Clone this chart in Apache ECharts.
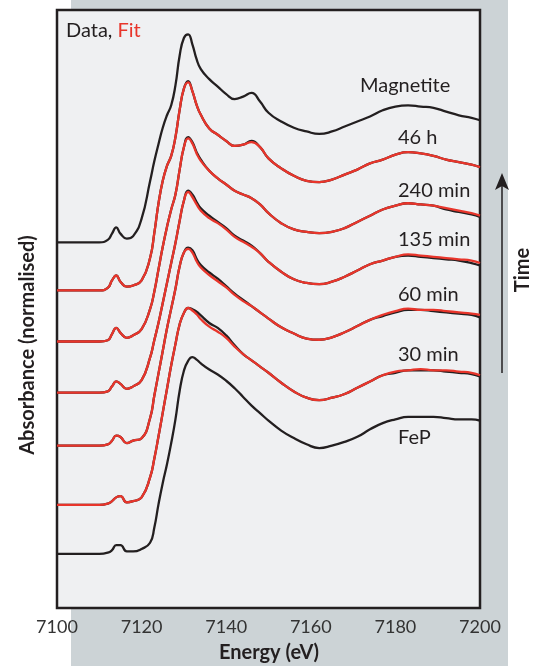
<!DOCTYPE html>
<html>
<head>
<meta charset="utf-8">
<script src="https://cdn.jsdelivr.net/npm/echarts@6/dist/echarts.min.js"></script>
<style>
  html, body { margin: 0; padding: 0; background: #ffffff; }
  #chart { width: 544px; height: 666px; }
</style>
</head>
<body>
<div id="chart"></div>
<script>
// Fe K-edge XANES, normalised absorbance vs photon energy (eV)
const energy = [7100, 7108, 7110, 7112, 7113, 7114, 7115, 7116.5, 7118, 7120, 7122, 7123, 7124, 7125, 7126, 7127,
  7128, 7129, 7130, 7131, 7132, 7133, 7134, 7136, 7138, 7140, 7142, 7144, 7146, 7148, 7150, 7153,
  7156, 7159, 7162, 7165, 7168, 7171, 7174, 7177, 7180, 7183, 7186, 7189, 7192, 7195, 7198, 7200];

// measured spectra (normalised)
const magnetite = [0, 0, 0, 0.02, 0.07, 0.12, 0.07, 0.03, 0.05, 0.19, 0.49, 0.65, 0.79, 0.92, 1.02, 1.10,
  1.26, 1.50, 1.64, 1.67, 1.59, 1.47, 1.39, 1.31, 1.25, 1.19, 1.15, 1.17, 1.20, 1.13, 1.04, 0.97,
  0.92, 0.89, 0.87, 0.89, 0.93, 0.97, 1.01, 1.06, 1.09, 1.10, 1.09, 1.08, 1.05, 1.02, 1.00, 0.98];
const h46 = [0, 0, 0, 0.02, 0.08, 0.12, 0.07, 0.03, 0.04, 0.08, 0.26, 0.46, 0.70, 0.88, 1.00, 1.08,
  1.23, 1.45, 1.62, 1.68, 1.60, 1.49, 1.41, 1.30, 1.25, 1.20, 1.16, 1.17, 1.20, 1.15, 1.06, 0.98,
  0.92, 0.88, 0.87, 0.89, 0.93, 0.97, 1.02, 1.05, 1.09, 1.11, 1.10, 1.08, 1.05, 1.03, 1.01, 0.99];
const min240 = [0, 0, 0, 0.01, 0.06, 0.11, 0.07, 0.03, 0.05, 0.10, 0.26, 0.40, 0.58, 0.76, 0.92, 1.06,
  1.18, 1.38, 1.56, 1.64, 1.60, 1.52, 1.46, 1.37, 1.31, 1.26, 1.21, 1.18, 1.15, 1.10, 1.03, 0.95,
  0.90, 0.88, 0.87, 0.88, 0.91, 0.96, 1.01, 1.06, 1.09, 1.11, 1.10, 1.09, 1.06, 1.04, 1.02, 1.00];
const min135 = [0, 0, 0, 0.01, 0.05, 0.09, 0.07, 0.03, 0.05, 0.10, 0.28, 0.42, 0.56, 0.72, 0.88, 1.04,
  1.20, 1.38, 1.54, 1.62, 1.59, 1.53, 1.48, 1.42, 1.37, 1.32, 1.26, 1.22, 1.18, 1.12, 1.05, 0.97,
  0.91, 0.88, 0.87, 0.89, 0.93, 0.98, 1.03, 1.06, 1.09, 1.10, 1.09, 1.08, 1.07, 1.06, 1.04, 1.02];
const min60 = [0, 0, 0, 0.01, 0.04, 0.08, 0.07, 0.02, 0.04, 0.06, 0.22, 0.40, 0.58, 0.76, 0.94, 1.10,
  1.26, 1.44, 1.55, 1.59, 1.57, 1.50, 1.45, 1.39, 1.34, 1.28, 1.22, 1.17, 1.12, 1.07, 1.02, 0.95,
  0.90, 0.86, 0.85, 0.87, 0.91, 0.96, 1.01, 1.04, 1.07, 1.09, 1.09, 1.08, 1.07, 1.06, 1.05, 1.03];
const min30 = [0, 0, 0, 0.01, 0.03, 0.06, 0.07, 0.02, 0.03, 0.06, 0.22, 0.37, 0.55, 0.74, 0.93, 1.12,
  1.29, 1.45, 1.54, 1.58, 1.57, 1.55, 1.52, 1.46, 1.42, 1.36, 1.28, 1.21, 1.16, 1.11, 1.06, 0.98,
  0.91, 0.86, 0.84, 0.86, 0.89, 0.94, 0.99, 1.04, 1.06, 1.08, 1.08, 1.08, 1.07, 1.06, 1.05, 1.03];
const feP = [0, 0, 0, 0.01, 0.03, 0.07, 0.07, 0.02, 0.02, 0.04, 0.09, 0.21, 0.40, 0.57, 0.72, 0.89,
  1.08, 1.31, 1.47, 1.55, 1.58, 1.56, 1.53, 1.48, 1.44, 1.39, 1.33, 1.26, 1.19, 1.13, 1.07, 0.99,
  0.93, 0.88, 0.85, 0.87, 0.90, 0.94, 1.00, 1.05, 1.08, 1.10, 1.10, 1.10, 1.09, 1.08, 1.08, 1.07];

// linear-combination fits
const h46Fit = [0, 0, 0, 0.02, 0.08, 0.12, 0.07, 0.03, 0.04, 0.08, 0.26, 0.46, 0.70, 0.88, 1.00, 1.08,
  1.23, 1.45, 1.62, 1.67, 1.60, 1.49, 1.41, 1.30, 1.25, 1.20, 1.16, 1.17, 1.19, 1.15, 1.06, 0.98,
  0.92, 0.88, 0.87, 0.89, 0.93, 0.97, 1.02, 1.05, 1.09, 1.11, 1.10, 1.08, 1.05, 1.03, 1.01, 0.99];
const min240Fit = [0, 0, 0, 0.01, 0.06, 0.11, 0.07, 0.03, 0.05, 0.10, 0.26, 0.40, 0.58, 0.76, 0.92, 1.06,
  1.18, 1.38, 1.56, 1.63, 1.59, 1.51, 1.45, 1.37, 1.31, 1.26, 1.21, 1.18, 1.15, 1.10, 1.03, 0.95,
  0.90, 0.88, 0.87, 0.88, 0.91, 0.96, 1.01, 1.06, 1.09, 1.11, 1.10, 1.09, 1.07, 1.05, 1.03, 1.01];
const min135Fit = [0, 0, 0, 0.01, 0.05, 0.09, 0.07, 0.03, 0.05, 0.10, 0.28, 0.42, 0.56, 0.72, 0.88, 1.04,
  1.20, 1.38, 1.54, 1.61, 1.57, 1.51, 1.46, 1.40, 1.36, 1.31, 1.25, 1.21, 1.17, 1.12, 1.05, 0.97,
  0.91, 0.88, 0.87, 0.89, 0.93, 0.98, 1.03, 1.06, 1.09, 1.11, 1.10, 1.09, 1.08, 1.07, 1.06, 1.04];
const min60Fit = [0, 0, 0, 0.01, 0.04, 0.08, 0.07, 0.02, 0.04, 0.06, 0.22, 0.40, 0.58, 0.76, 0.94, 1.10,
  1.26, 1.44, 1.55, 1.58, 1.55, 1.48, 1.43, 1.37, 1.32, 1.27, 1.21, 1.16, 1.12, 1.07, 1.02, 0.95,
  0.90, 0.86, 0.85, 0.87, 0.91, 0.96, 1.01, 1.05, 1.08, 1.10, 1.09, 1.09, 1.08, 1.07, 1.06, 1.05];
const min30Fit = [0, 0, 0, 0.01, 0.03, 0.06, 0.07, 0.02, 0.03, 0.06, 0.22, 0.37, 0.55, 0.74, 0.93, 1.12,
  1.29, 1.45, 1.54, 1.58, 1.56, 1.53, 1.49, 1.43, 1.39, 1.34, 1.27, 1.21, 1.16, 1.11, 1.06, 0.98,
  0.91, 0.86, 0.84, 0.86, 0.89, 0.94, 0.99, 1.04, 1.07, 1.08, 1.09, 1.08, 1.08, 1.07, 1.06, 1.04];

// vertical stacking offsets (same order as the spectra below)
const sampleNames = ['Magnetite', '46 h', '240 min', '135 min', '60 min', '30 min', 'FeP'];
const stackOffsets = [2.935, 2.549, 2.139, 1.729, 1.303, 0.828, 0.434];
const measured = [magnetite, h46, min240, min135, min60, min30, feP];
const fitted = [null, h46Fit, min240Fit, min135Fit, min60Fit, min30Fit, null];

const xTicks = [7100, 7120, 7140, 7160, 7180, 7200];

const INK = '#231f20';
const RED = '#e8352b';
const FONT = 'Lato, "Open Sans", sans-serif';

function pairs(values, offset) {
  return energy.map((e, i) => [e, +(values[i] + offset).toFixed(4)]);
}

const series = [];
measured.forEach((vals, k) => {
  series.push({
    name: sampleNames[k], type: 'line', data: pairs(vals, stackOffsets[k]),
    smooth: 0.5, symbol: 'none', z: 3,
    lineStyle: { color: INK, width: 2.3 }
  });
});
fitted.forEach((vals, k) => {
  if (!vals) return;
  series.push({
    name: sampleNames[k] + ' fit', type: 'line', data: pairs(vals, stackOffsets[k]),
    smooth: 0.5, symbol: 'none', z: 4,
    lineStyle: { color: RED, width: 2.3 }
  });
});

const labelFont = '20px ' + FONT;
function label(text, x, y) {
  return { type: 'text', x: x, y: y, z: 50,
    style: { text: text, fill: INK, font: labelFont, align: 'left', verticalAlign: 'middle' } };
}

const chart = echarts.init(document.getElementById('chart'), null, { renderer: 'canvas' });
chart.setOption({
  animation: false,
  backgroundColor: '#ffffff',
  grid: { left: 57, right: 64, top: 10, bottom: 58, show: true,
    borderColor: INK, borderWidth: 2.5, backgroundColor: '#eff0f2', z: 1 },
  xAxis: {
    type: 'value', min: xTicks[0], max: xTicks[xTicks.length - 1], interval: 20,
    axisLine: { show: false },
    axisTick: { show: true, inside: true, length: 11, lineStyle: { color: INK, width: 1.5 } },
    axisLabel: { margin: 10, color: '#333333', fontSize: 18, fontFamily: FONT,
      formatter: v => String(v) },
    splitLine: { show: false }
  },
  yAxis: { type: 'value', min: 0, max: 4.8, show: false, splitLine: { show: false } },
  graphic: [
    { type: 'rect', z: -100, silent: true, shape: { x: 71, y: 0, width: 437, height: 666 },
      style: { fill: '#ccd3d6' } },
    { type: 'text', z: 50, x: 66, y: 31,
      style: { text: '{a|Data, }{b|Fit}', verticalAlign: 'middle', align: 'left',
        rich: { a: { fill: INK, font: labelFont }, b: { fill: RED, font: labelFont } } } },
    label('Magnetite', 360, 86),
    label('46 h', 398, 138),
    label('240 min', 398, 191),
    label('135 min', 398, 240),
    label('60 min', 398, 295),
    label('30 min', 398, 355),
    label('FeP', 398, 438),
    { type: 'text', z: 50, x: 269, y: 653,
      style: { text: 'Energy (eV)', fill: INK, font: 'bold 20px ' + FONT, align: 'center', verticalAlign: 'middle' } },
    { type: 'text', z: 50, x: 28, y: 345, rotation: Math.PI / 2,
      style: { text: 'Absorbance (normalised)', fill: INK, font: 'bold 20px ' + FONT, align: 'center', verticalAlign: 'middle' } },
    { type: 'text', z: 50, x: 523, y: 270, rotation: Math.PI / 2,
      style: { text: 'Time', fill: INK, font: 'bold 20px ' + FONT, align: 'center', verticalAlign: 'middle' } },
    { type: 'line', z: 50, shape: { x1: 502, y1: 373, x2: 502, y2: 186 },
      style: { stroke: INK, lineWidth: 1.5 } },
    { type: 'polygon', z: 50, shape: { points: [[502, 173], [495, 190], [502, 186], [509, 190]] },
      style: { fill: INK } }
  ],
  series: series
});
</script>
</body>
</html>
